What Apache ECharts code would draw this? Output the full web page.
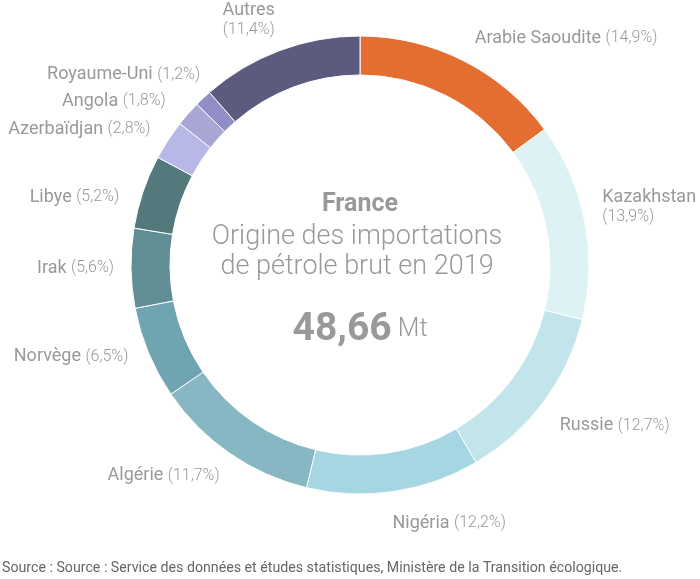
<!DOCTYPE html>
<html>
<head>
<meta charset="utf-8">
<script src="https://cdn.jsdelivr.net/npm/echarts@6/dist/echarts.min.js"></script>
<style>
  html, body { margin: 0; padding: 0; background: #ffffff; }
  #chart { width: 700px; height: 579px; }
</style>
</head>
<body>
<div id="chart"></div>
<script>
// ---- Data ----
var countries = ['Arabie Saoudite', 'Kazakhstan', 'Russie', 'Nigéria', 'Algérie', 'Norvège', 'Irak', 'Libye', 'Azerbaïdjan', 'Angola', 'Royaume-Uni', 'Autres'];
var shares = [14.9, 13.9, 12.7, 12.2, 11.7, 6.5, 5.6, 5.2, 2.8, 1.8, 1.2, 11.4];
var sliceColors = ['#E46D31', '#DEF2F6', '#C2E4EB', '#A6D6E2', '#86B7C3', '#6FA4B1', '#618E95', '#53797D', '#B8B8E8', '#A9A6D6', '#908DC7', '#5D5A7F'];
var twoLineLabels = ['Kazakhstan', 'Autres'];
var titleCountry = 'France';
var titleLines = ['Origine des importations', 'de pétrole brut en 2019'];
var totalValue = '48,66';
var totalUnit = 'Mt';
var sourceText = 'Source : Source : Service des données et études statistiques, Ministère de la Transition écologique.';

// ---- Chart ----
var chart = echarts.init(document.getElementById('chart'), null, { renderer: 'canvas' });

function fmtPct(v) { return '(' + v.toFixed(1).replace('.', ',') + '%)'; }

// label placement tweaks (hidden label-line geometry only)
var labelLineTweaks = {
  'Arabie Saoudite': { length: 25, length2: -5 },
  'Kazakhstan': { length: 66, length2: -52 },
  'Russie': { length: 40, length2: -21 },
  'Nigéria': { length: 32, length2: -11 },
  'Algérie': { length: 27, length2: -10 },
  'Norvège': { length: 10, length2: 8 },
  'Irak': { length: 17, length2: 0 },
  'Libye': { length: -17, length2: 36 },
  'Azerbaïdjan': { length: 20, length2: -4 },
  'Angola': { length: 19, length2: 0 },
  'Royaume-Uni': { length: 32, length2: -21 },
  'Autres': { length: 34, length2: -12 }
};

var pieData = countries.map(function (name, i) {
  var item = { name: name, value: shares[i], itemStyle: { color: sliceColors[i] } };
  if (labelLineTweaks[name]) {
    item.labelLine = labelLineTweaks[name];
  }
  return item;
});

var option = {
  backgroundColor: '#ffffff',
  animation: false,
  textStyle: { fontFamily: 'Roboto' },
  graphic: [
    {
      type: 'text', x: 360, y: 205,
      style: { text: titleCountry, fontFamily: 'Roboto', fontWeight: 'bold', fontSize: 25, fill: '#999999', align: 'center', verticalAlign: 'middle' }
    },
    {
      type: 'text', x: 357, y: 252,
      style: { text: titleLines.join('\n'), fontFamily: 'Roboto', fontWeight: 300, fontSize: 27, lineHeight: 30, fill: '#999999', align: 'center', verticalAlign: 'middle' }
    },
    {
      type: 'text', x: 360, y: 330,
      style: {
        text: '{v|' + totalValue + '}{u| ' + totalUnit + '}',
        align: 'center', verticalAlign: 'middle',
        rich: {
          v: { fontFamily: 'Roboto', fontWeight: 'bold', fontSize: 39, fill: '#999999', lineHeight: 44 },
          u: { fontFamily: 'Roboto', fontWeight: 300, fontSize: 25, fill: '#999999', lineHeight: 44 }
        }
      }
    },
    {
      type: 'text', x: 2, y: 568,
      style: { text: sourceText, fontFamily: 'Roboto', fontSize: 14.2, fill: '#666666', verticalAlign: 'middle' }
    }
  ],
  series: [{
    type: 'pie',
    center: [360, 265],
    radius: [190, 229],
    startAngle: 90,
    clockwise: true,
    avoidLabelOverlap: true,
    itemStyle: { borderColor: '#ffffff', borderWidth: 1 },
    emphasis: { disabled: true },
    label: {
      show: true,
      position: 'outside',
      overflow: 'none',
      distanceToLabelLine: 5,
      formatter: function (p) {
        var twoLine = twoLineLabels.indexOf(p.name) >= 0;
        return twoLine
          ? '{n2|' + p.name + '}\n{p2|' + fmtPct(p.value) + '}'
          : '{n|' + p.name + ' }{p|' + fmtPct(p.value) + '}';
      },
      rich: {
        n: { fontFamily: 'Roboto', fontSize: 18, color: '#999999', lineHeight: 24 },
        p: { fontFamily: 'Roboto', fontWeight: 300, fontSize: 16, color: '#999999', lineHeight: 24 },
        n2: { fontFamily: 'Roboto', fontSize: 18, color: '#999999', lineHeight: 20 },
        p2: { fontFamily: 'Roboto', fontWeight: 300, fontSize: 16, color: '#999999', lineHeight: 20 }
      }
    },
    labelLine: { show: false, length: 26, length2: 0 },
    data: pieData
  }]
};
chart.setOption(option);
</script>
</body>
</html>
